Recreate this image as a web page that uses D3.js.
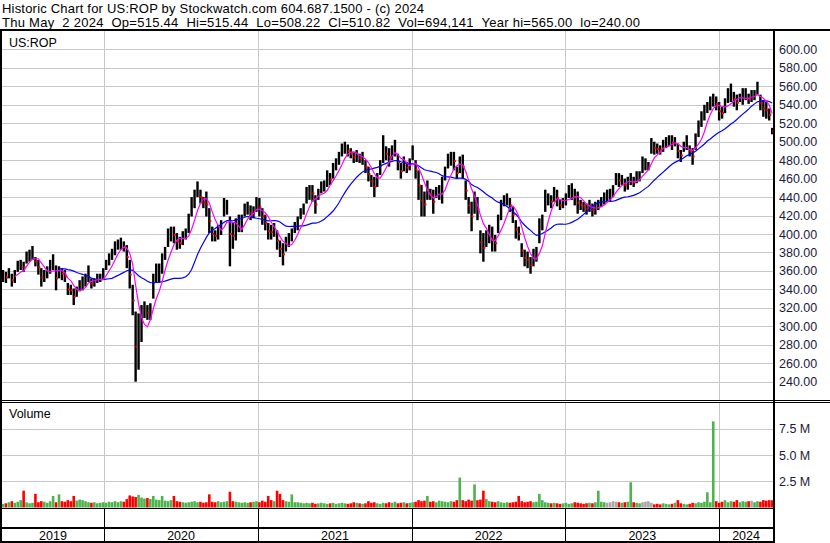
<!DOCTYPE html>
<html><head><meta charset="utf-8">
<script src="https://cdn.jsdelivr.net/npm/d3@7"></script>
<style>
html,body{margin:0;padding:0;background:#fff;}
svg{display:block;}
text{font-family:"Liberation Sans",Arial,sans-serif;}
</style>
</head><body>
<svg id="c" width="830" height="543"></svg>
<script>
// ---------- DATA (weekly) ----------
const startDate = new Date(2019, 4, 6);
const weekHigh = [361,359,363,357,361,371,372,370,381,383,387,375,372,363,361,365,372,378,366,365,
363,361,347,345,341,343,350,354,357,366,352,352,357,357,363,372,379,384,392,394,
396,392,388,372,345,316,314,323,327,323,325,357,368,368,379,386,406,408,408,401,
397,403,406,422,440,448,457,448,440,446,428,408,404,410,415,439,437,419,413,417,
421,421,433,435,431,430,440,439,428,421,412,410,412,404,393,390,397,401,406,413,
419,428,433,451,453,453,442,449,457,458,469,466,477,482,489,498,500,497,493,489,
491,487,489,480,473,464,462,466,480,507,495,493,496,502,487,477,484,478,482,496,
480,469,453,446,458,449,448,451,453,462,473,487,489,489,473,484,486,458,440,435,
446,440,404,401,404,410,408,399,421,437,442,444,439,430,415,408,390,383,381,375,
384,386,417,421,448,444,442,451,448,437,439,444,453,455,449,446,437,435,433,437,
433,435,437,440,445,448,449,453,466,466,464,460,462,466,462,468,468,484,482,478,
504,500,498,496,502,505,507,507,505,498,491,500,507,496,493,509,523,533,540,543,
549,552,549,543,538,547,558,563,554,551,552,558,558,552,556,556,565,551,545,543,
536,515];
const weekLow = [348,347,352,343,347,359,361,359,368,370,372,365,356,343,348,352,357,361,339,352,
350,348,334,334,323,332,338,339,343,348,341,343,347,348,350,361,366,372,377,383,
383,381,363,341,312,240,253,283,309,307,307,330,347,348,357,372,386,392,390,383,
384,388,394,401,419,428,440,433,428,419,401,392,392,394,399,419,421,365,384,393,
402,402,419,421,415,417,424,419,410,404,394,394,397,383,375,366,381,386,392,401,
404,416,421,433,437,435,422,437,444,446,451,453,460,469,475,484,487,484,482,477,
478,477,475,466,457,451,440,451,464,477,480,473,480,484,469,460,468,466,469,480,
460,437,419,419,437,437,422,439,437,433,458,471,474,469,460,466,460,437,422,403,
422,415,379,370,386,390,381,381,401,415,430,431,424,412,395,393,375,365,363,357,
365,370,390,404,424,431,428,435,430,426,428,431,439,437,431,422,426,424,421,424,
419,421,426,429,432,435,435,440,453,451,453,446,448,453,451,455,457,466,469,469,
487,486,487,486,489,493,495,491,495,482,478,489,491,484,475,491,505,516,523,531,
534,538,534,523,525,531,542,543,538,534,543,540,545,541,543,545,551,534,527,525,
523,508];
const weekClose = [355,353,358,350,354,365,367,364,375,377,380,370,364,353,355,358,365,370,352,358,
357,354,340,339,332,337,344,347,350,357,346,347,352,353,356,367,373,378,385,389,
390,386,375,356,328,278,283,303,318,315,316,343,357,358,368,379,396,400,399,392,
390,395,400,411,430,438,448,440,434,432,414,400,398,402,407,429,429,400,398,405,
411,411,426,428,423,423,432,429,419,412,403,402,404,393,384,378,389,393,399,407,
411,422,427,442,445,444,432,443,450,452,460,459,468,475,482,491,494,490,487,483,
485,482,482,473,465,457,451,458,472,490,487,483,488,493,478,468,476,472,476,488,
470,453,436,432,448,443,435,445,445,448,465,479,481,479,466,475,473,447,431,419,
434,427,391,385,395,400,394,390,411,426,436,438,431,421,405,400,382,374,372,366,
375,378,404,412,436,438,435,443,439,431,433,437,446,446,440,434,431,430,427,430,
426,428,431,434,438,441,442,446,459,458,458,453,455,460,456,461,462,475,476,473,
495,493,492,491,495,499,501,499,500,490,485,494,499,490,484,500,514,525,531,537,
541,545,541,533,531,539,550,553,546,542,547,549,551,546,549,550,558,542,536,534,
529,511];
const weekVolM = [0.35,0.4,0.5,0.6,0.45,0.55,0.7,1.6,0.5,0.4,
0.45,1.3,0.5,0.6,0.55,0.45,0.6,1.1,0.5,1.25,
0.6,0.55,0.7,0.6,1.1,0.65,0.75,0.7,0.6,0.5,
0.45,0.5,0.4,0.45,0.5,0.45,0.55,0.5,0.6,0.5,
0.6,0.55,0.8,1.15,1.05,1.0,1.2,0.95,0.85,0.9,
0.8,1.1,0.75,0.7,1.1,0.65,0.6,0.7,1.1,0.6,
0.55,0.5,0.45,0.5,0.55,0.6,0.5,0.55,0.45,0.5,
1.25,0.55,0.5,0.6,0.5,0.55,0.6,1.5,0.6,0.55,
0.5,0.45,0.5,0.45,0.5,0.55,0.6,0.5,0.65,0.55,
1.1,0.7,0.6,1.6,1.3,0.7,0.6,0.55,1.25,0.5,
0.5,0.45,0.4,0.45,0.4,0.45,0.35,0.4,0.45,0.4,
0.35,0.4,0.45,0.35,0.4,0.45,0.4,0.35,0.4,0.5,
0.45,0.4,0.35,0.4,0.6,0.45,0.5,0.4,0.35,0.45,
0.4,0.5,0.45,0.55,0.4,0.45,0.5,0.4,0.45,0.5,
0.55,0.7,0.6,0.65,1.1,0.55,0.6,0.5,0.65,0.6,
0.55,0.5,0.6,0.55,0.7,2.85,0.7,0.6,0.75,0.65,
2.2,0.7,0.75,1.6,0.8,0.6,0.55,0.5,0.6,0.5,
0.45,0.5,0.45,0.5,0.55,1.1,0.6,0.5,0.55,0.6,
0.5,0.55,1.3,0.7,0.5,0.45,0.4,0.45,0.4,0.35,
0.4,0.45,0.35,0.4,0.5,0.45,0.4,0.35,0.4,0.45,
0.4,0.5,1.6,0.55,0.5,0.45,0.5,0.6,0.55,0.5,
0.45,0.5,0.55,2.4,0.5,0.45,0.4,0.5,0.55,0.6,
0.45,0.3,0.35,0.3,0.4,0.35,0.3,0.35,0.45,0.7,
0.4,0.35,0.3,0.35,0.45,0.4,0.5,0.45,0.55,1.45,
0.5,8.2,0.6,0.45,0.55,0.7,0.5,0.6,0.55,0.7,
0.5,0.6,0.55,0.6,0.65,0.5,0.6,0.55,0.7,0.65,
0.7,0.69];
const grayWeeks = [205,206,207,208,217,218,219,220,254];
const priceTicks = [240,260,280,300,320,340,360,380,400,420,440,460,480,500,520,540,560,580,600];
const volTicks = [2.5e6,5e6,7.5e6];
const volTickLabels = ["2.5 M","5.0 M","7.5 M"];
const yearLabels = ["2019","2020","2021","2022","2023","2024"];
const maFastWeeks = 5, maSlowWeeks = 20;
const header1 = "Historic Chart for US:ROP by Stockwatch.com 604.687.1500 - (c) 2024";
const header2 = "Thu May  2 2024  Op=515.44  Hi=515.44  Lo=508.22  Cl=510.82  Vol=694,141  Year hi=565.00  lo=240.00";
const symbolLabel = "US:ROP";
const volumeLabel = "Volume";

// ---------- CHART ----------
const svg = d3.select("#c");
const FS = 12.5;
const PL = 2, PR = 773, PT = 31, PB = 400, VT = 403, VB = 508;
const dates = weekHigh.map((d, i) => d3.timeDay.offset(startDate, 7 * i));
const endDate = new Date(2024, 4, 2);
const x = d3.scaleTime().domain([startDate, endDate]).range([3, 770.5]);
const y = d3.scaleLinear().domain([240, 600]).range([381.7, 49.4]);
const yv = d3.scaleLinear().domain([0, 10e6]).range([507.5, 402.5]);
const yearBounds = d3.timeYear.range(d3.timeYear.ceil(startDate), endDate);

svg.append("rect").attr("width", 830).attr("height", 543).attr("fill", "#fff");

// header
svg.append("text").attr("x", 2).attr("y", 12.5).attr("font-size", 13).attr("fill", "#000")
  .attr("textLength", 422).attr("lengthAdjust", "spacing").text(header1);
svg.append("text").attr("x", 2).attr("y", 26.5).attr("font-size", 13).attr("fill", "#000")
  .attr("xml:space", "preserve").style("white-space", "pre")
  .attr("textLength", 638).attr("lengthAdjust", "spacing").text(header2);

// grid
const grid = svg.append("g").attr("stroke", "#c8c8c8").attr("stroke-width", 1);
grid.selectAll(".hp").data(priceTicks).join("line")
  .attr("x1", PL).attr("x2", PR)
  .attr("y1", d => Math.round(y(d)) + 0.5).attr("y2", d => Math.round(y(d)) + 0.5);
grid.selectAll(".hv").data(volTicks).join("line")
  .attr("x1", PL).attr("x2", PR)
  .attr("y1", d => Math.round(yv(d)) + 0.5).attr("y2", d => Math.round(yv(d)) + 0.5);
grid.selectAll(".vp").data(yearBounds).join("line")
  .attr("x1", d => Math.round(x(d)) + 0.5).attr("x2", d => Math.round(x(d)) + 0.5)
  .attr("y1", PT).attr("y2", PB);
grid.selectAll(".vv").data(yearBounds).join("line")
  .attr("x1", d => Math.round(x(d)) + 0.5).attr("x2", d => Math.round(x(d)) + 0.5)
  .attr("y1", VT).attr("y2", VB);

// clip
svg.append("clipPath").attr("id", "pclip").append("rect")
  .attr("x", PL).attr("y", PT).attr("width", PR - PL).attr("height", PB - PT);

const pg = svg.append("g").attr("clip-path", "url(#pclip)");
// price bars
pg.append("g").selectAll("rect").data(dates).join("rect")
  .attr("x", d => x(d) - 1.2).attr("width", 2.4)
  .attr("y", (d, i) => y(weekHigh[i]))
  .attr("height", (d, i) => Math.max(1, y(weekLow[i]) - y(weekHigh[i])))
  .attr("fill", "#000");
// red close marks on down weeks
const downIdx = weekClose.map((c, i) => i).filter(i => i > 0 && weekClose[i] < weekClose[i - 1]);
pg.append("g").selectAll("rect").data(downIdx).join("rect")
  .attr("x", i => x(dates[i])).attr("width", 2)
  .attr("y", i => y(weekClose[i]) - 1).attr("height", 2)
  .attr("fill", "#ff0000");

// moving averages
function sma(arr, n) {
  return arr.map((v, i) => i < n - 1 ? null : d3.mean(arr.slice(i - n + 1, i + 1)));
}
const maFast = sma(weekClose, maFastWeeks);
const maSlow = sma(weekClose, maSlowWeeks);
const line = d3.line().defined(d => d[1] != null).x(d => x(d[0])).y(d => y(d[1]));
pg.append("path").datum(dates.map((d, i) => [d, maSlow[i]])).attr("d", line)
  .attr("fill", "none").attr("stroke", "#0000ff").attr("stroke-width", 1.2);
pg.append("path").datum(dates.map((d, i) => [d, maFast[i]])).attr("d", line)
  .attr("fill", "none").attr("stroke", "#ff00ff").attr("stroke-width", 1.2);

// volume bars
svg.append("g").selectAll("rect").data(dates).join("rect")
  .attr("x", d => x(d) - 1.3).attr("width", 2.6)
  .attr("y", (d, i) => yv(weekVolM[i] * 1e6))
  .attr("height", (d, i) => yv(0) - yv(weekVolM[i] * 1e6))
  .attr("fill", (d, i) => grayWeeks.includes(i) ? "#a8a8a8" :
        (i > 0 && weekClose[i] < weekClose[i - 1]) ? "#ff0000" : "#4db34d");

// axes
const pAxis = d3.axisRight(y).tickValues(priceTicks).tickFormat(d3.format(".2f")).tickSize(0).tickPadding(0);
const ga = svg.append("g").attr("transform", "translate(779,0)").call(pAxis);
ga.select(".domain").remove();
ga.selectAll("text").attr("font-size", FS).attr("font-family", "Liberation Sans, Arial, sans-serif").attr("fill", "#1a1a3a");
const vAxis = d3.axisRight(yv).tickValues(volTicks).tickFormat((d, i) => volTickLabels[i]).tickSize(0).tickPadding(0);
const gv = svg.append("g").attr("transform", "translate(779,0)").call(vAxis);
gv.select(".domain").remove();
gv.selectAll("text").attr("font-size", FS).attr("font-family", "Liberation Sans, Arial, sans-serif").attr("fill", "#1a1a3a");

// labels
svg.append("text").attr("x", 9).attr("y", 46.5).attr("font-size", FS).text(symbolLabel);
svg.append("text").attr("x", 9).attr("y", 418).attr("font-size", FS).text(volumeLabel);

// frame lines
const frame = svg.append("g").attr("fill", "#000");
frame.append("rect").attr("x", 0).attr("y", 29).attr("width", 830).attr("height", 2);
frame.append("rect").attr("x", 0).attr("y", 29).attr("width", 2).attr("height", 514);
frame.append("rect").attr("x", 773).attr("y", 29).attr("width", 2).attr("height", 514);
frame.append("rect").attr("x", 0).attr("y", 400).attr("width", 830).attr("height", 1);
frame.append("rect").attr("x", 0).attr("y", 402).attr("width", 830).attr("height", 1);
frame.append("rect").attr("x", 0).attr("y", 508).attr("width", 774).attr("height", 1);
frame.append("rect").attr("x", 0).attr("y", 527).attr("width", 774).attr("height", 2);
frame.append("rect").attr("x", 0).attr("y", 541).attr("width", 774).attr("height", 2);
frame.selectAll(".yb").data(yearBounds).join("rect")
  .attr("x", d => Math.round(x(d))).attr("y", 508).attr("width", 1).attr("height", 34);

// year labels
const edges = [PL].concat(yearBounds.map(d => x(d))).concat([PR]);
svg.append("g").selectAll("text").data(yearLabels).join("text")
  .attr("x", (d, i) => (edges[i] + edges[i + 1]) / 2)
  .attr("y", 539.5).attr("text-anchor", "middle").attr("font-size", FS).attr("fill", "#000")
  .text(d => d);
</script>
</body></html>
